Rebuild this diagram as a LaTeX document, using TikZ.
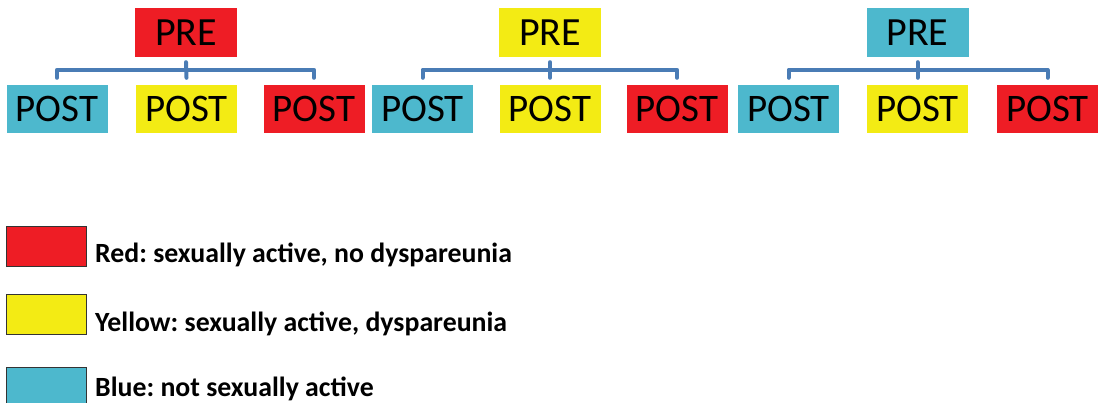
\documentclass[tikz,border=0pt]{standalone}
\usepackage{fontspec}
\setmainfont{Carlito}
\frenchspacing
\definecolor{cred}{HTML}{EE1D25}
\definecolor{cyel}{HTML}{F3EB14}
\definecolor{cblu}{HTML}{4DB8CD}
\definecolor{cbrk}{HTML}{4A7CB5}
\tikzset{
  prebox/.style={rectangle, inner sep=0pt, minimum width=102pt, minimum height=49pt, font=\fontsize{40}{40}\selectfont},
  postbox/.style={rectangle, inner sep=0pt, minimum width=101pt, minimum height=48pt, font=\fontsize{39}{39}\selectfont},
  brk/.style={draw=cbrk, line width=4pt, line join=round, line cap=round},
  legbox/.style={rectangle, draw=black!80, line width=1pt, inner sep=0pt, minimum width=80pt, minimum height=40pt},
  legtxt/.style={anchor=base west, inner sep=0pt, font=\fontsize{27.8}{27.8}\selectfont\bfseries}
}
\begin{document}
\begin{tikzpicture}[x=1pt,y=-1pt]
\useasboundingbox (0,0) rectangle (1105,403);
% group 1
\node[prebox, fill=cred] (g1pre) at (186,32.5) {PRE};
\node[postbox, fill=cblu] (g1a) at (57,109) {POST};
\node[postbox, fill=cyel] (g1b) at (186.5,109) {POST};
\node[postbox, fill=cred] (g1c) at (314,109) {POST};
% group 2
\node[prebox, fill=cyel] (g2pre) at (550,32.5) {PRE};
\node[postbox, fill=cblu] (g2a) at (422.5,109) {POST};
\node[postbox, fill=cyel] (g2b) at (550,109) {POST};
\node[postbox, fill=cred] (g2c) at (677,109) {POST};
% group 3
\node[prebox, fill=cblu] (g3pre) at (917.5,32.5) {PRE};
\node[postbox, fill=cblu] (g3a) at (788.5,109) {POST};
\node[postbox, fill=cyel] (g3b) at (917.5,109) {POST};
\node[postbox, fill=cred] (g3c) at (1047.5,109) {POST};
% brackets
\foreach \g in {g1,g2,g3}{
  \draw[brk] ([yshift=7pt]\g a.north) -- ([yshift=15pt]\g a.north) -- ([yshift=15pt]\g c.north) -- ([yshift=7pt]\g c.north);
  \draw[brk] ([yshift=-5pt]\g pre.south) -- ([yshift=7pt]\g b.north);
}
% legend
\node[legbox, fill=cred] (lr) at (46.5,246.5) {};
\node[legbox, fill=cyel] (ly) at (46.5,314) {};
\node[legbox, fill=cblu] (lb) at (46.5,387) {};
\node[legtxt] (tr) at (95,263) {Red: sexually active, no dyspareunia};
\node[legtxt] (ty) at (95,331) {Yellow: sexually active, dyspareunia};
\node[legtxt] (tb) at (95,396) {Blue: not sexually active};
\end{tikzpicture}
\end{document}
